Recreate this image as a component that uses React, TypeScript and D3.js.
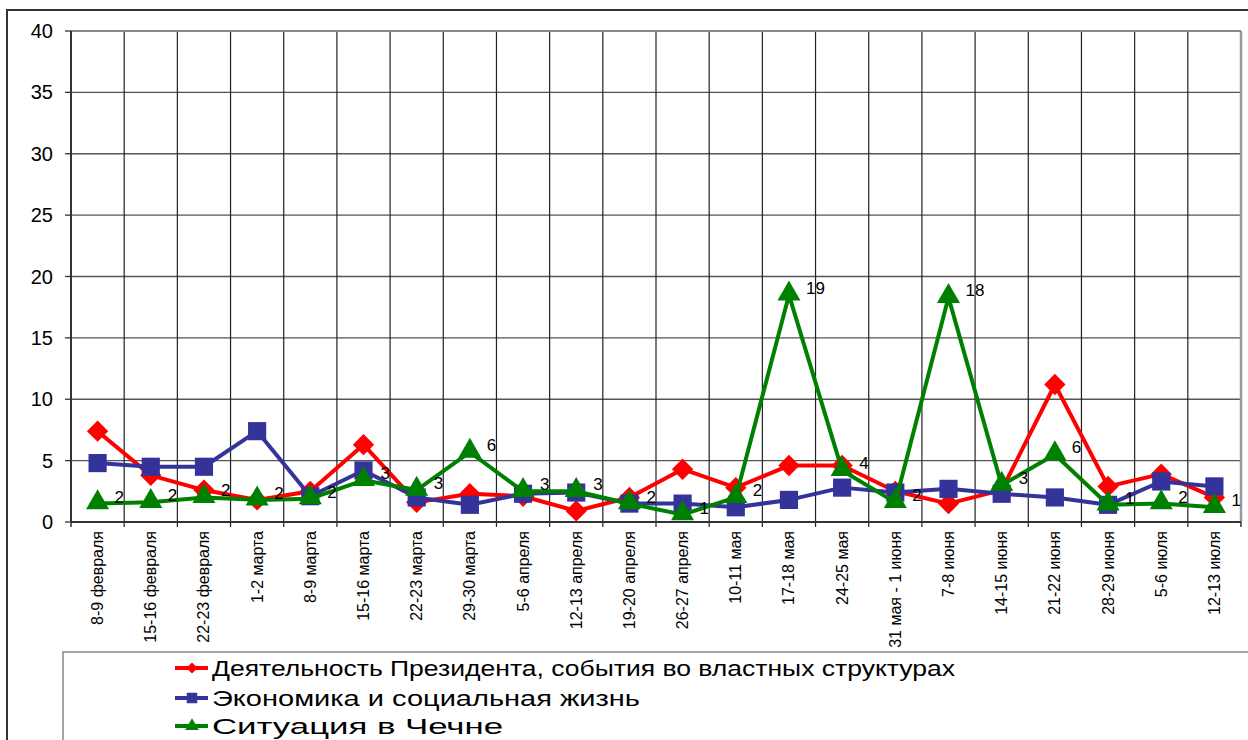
import React, { useEffect, useRef } from 'react';
import * as d3 from 'd3';

const categories = [
  '8-9 февраля', '15-16 февраля', '22-23 февраля', '1-2 марта', '8-9 марта',
  '15-16 марта', '22-23 марта', '29-30 марта', '5-6 апреля', '12-13 апреля',
  '19-20 апреля', '26-27 апреля', '10-11 мая', '17-18 мая', '24-25 мая',
  '31 мая - 1 июня', '7-8 июня', '14-15 июня', '21-22 июня', '28-29 июня',
  '5-6 июля', '12-13 июля',
];

const president = [7.4, 3.8, 2.6, 1.8, 2.5, 6.3, 1.6, 2.3, 2.1, 0.9, 2.0, 4.3, 2.8, 4.6, 4.6, 2.5, 1.5, 2.6, 11.2, 2.9, 3.9, 2.0];
const economy = [4.8, 4.5, 4.5, 7.4, 2.1, 4.2, 2.0, 1.4, 2.3, 2.4, 1.5, 1.5, 1.2, 1.8, 2.8, 2.4, 2.7, 2.3, 2.0, 1.4, 3.3, 2.9];
const chechnya = [1.5, 1.6, 2.0, 1.8, 1.9, 3.4, 2.6, 5.7, 2.5, 2.5, 1.5, 0.6, 2.0, 18.5, 4.2, 1.6, 18.3, 3.0, 5.5, 1.4, 1.5, 1.2];

const yTicks = [0, 5, 10, 15, 20, 25, 30, 35, 40];

const seriesNames = [
  'Деятельность Президента, события во властных структурах',
  'Экономика и социальная жизнь',
  'Ситуация в Чечне',
];
const seriesColors = ['#ff0000', '#333399', '#008000'];
const legendWidths = [743, 428, 291];

export default function App() {
  const svgRef = useRef<SVGSVGElement>(null);

  useEffect(() => {
    if (!svgRef.current) return;
    const svg = d3.select(svgRef.current);
    svg.selectAll('*').remove();

    const left = 71, right = 1241, top = 31, bottom = 522;
    const font = '"Liberation Sans", Arial, sans-serif';

    // outer chart frame
    svg.append('rect')
      .attr('x', 7).attr('y', 10).attr('width', 1400).attr('height', 900)
      .attr('fill', 'white').attr('stroke', '#333').attr('stroke-width', 2);

    const x = d3.scaleBand<string>().domain(categories).range([left, right]);
    const cx = (i: number) => (x(categories[i]) || 0) + x.bandwidth() / 2;
    const y = d3.scaleLinear().domain([0, 40]).range([bottom, top]);

    // gridlines
    svg.append('g').selectAll('line')
      .data(yTicks.slice(1))
      .join('line')
      .attr('x1', left).attr('x2', right)
      .attr('y1', d => y(d)).attr('y2', d => y(d))
      .attr('stroke', '#555').attr('stroke-width', 1.3);

    const bounds = categories.map(c => (x(c) || 0) + x.bandwidth());
    svg.append('g').selectAll('line')
      .data(bounds.slice(0, -1))
      .join('line')
      .attr('x1', d => d).attr('x2', d => d)
      .attr('y1', top).attr('y2', bottom + 5)
      .attr('stroke', '#222').attr('stroke-width', 1.2);

    // plot area border right / top
    svg.append('line').attr('x1', right).attr('x2', right).attr('y1', top).attr('y2', bottom)
      .attr('stroke', '#999').attr('stroke-width', 2.5);
    svg.append('line').attr('x1', left).attr('x2', right).attr('y1', top).attr('y2', top)
      .attr('stroke', '#888').attr('stroke-width', 2);

    // axes
    svg.append('line').attr('x1', left).attr('x2', left).attr('y1', top).attr('y2', bottom)
      .attr('stroke', '#333').attr('stroke-width', 2);
    svg.append('line').attr('x1', left).attr('x2', right).attr('y1', bottom).attr('y2', bottom)
      .attr('stroke', '#333').attr('stroke-width', 2);
    svg.append('line').attr('x1', left).attr('x2', left).attr('y1', bottom).attr('y2', bottom + 5)
      .attr('stroke', '#333').attr('stroke-width', 1.5);
    svg.append('line').attr('x1', right).attr('x2', right).attr('y1', bottom).attr('y2', bottom + 5)
      .attr('stroke', '#333').attr('stroke-width', 1.5);

    svg.append('g').selectAll('line')
      .data(yTicks)
      .join('line')
      .attr('x1', left - 6).attr('x2', left)
      .attr('y1', d => y(d)).attr('y2', d => y(d))
      .attr('stroke', '#333').attr('stroke-width', 1.3);

    svg.append('g').selectAll('text')
      .data(yTicks)
      .join('text')
      .attr('x', 53).attr('y', d => y(d))
      .attr('dy', '0.35em')
      .attr('text-anchor', 'end')
      .attr('font-family', font).attr('font-size', 20)
      .attr('fill', '#000')
      .text(d => d);

    // category labels
    svg.append('g').selectAll('text')
      .data(categories)
      .join('text')
      .attr('transform', (d, i) => `translate(${cx(i) + 5.5},${bottom + 9}) rotate(-90)`)
      .attr('text-anchor', 'end')
      .attr('font-family', font).attr('font-size', 16)
      .attr('fill', '#000')
      .text(d => d);

    const allSeries = [president, economy, chechnya];
    const line = d3.line<number>().x((d, i) => cx(i)).y(d => y(d));

    const diamond = d3.symbol().type(d3.symbolDiamond2).size(290);
    const square = d3.symbol().type(d3.symbolSquare).size(330);
    const triangle = d3.symbol().type(d3.symbolTriangle).size(230);
    const shapes = [diamond, square, triangle];

    allSeries.forEach((s, k) => {
      svg.append('path')
        .datum(s)
        .attr('d', line)
        .attr('fill', 'none')
        .attr('stroke', seriesColors[k])
        .attr('stroke-width', 4)
        .attr('stroke-linejoin', 'round');
      svg.append('g').selectAll('path')
        .data(s)
        .join('path')
        .attr('transform', (d, i) => `translate(${cx(i)},${y(d) - (k === 2 ? 1 : 0)})`)
        .attr('d', shapes[k]() || '')
        .attr('fill', seriesColors[k]);
    });

    // data labels on Chechnya series
    svg.append('g').selectAll('text')
      .data(chechnya)
      .join('text')
      .attr('x', (d, i) => cx(i) + 17)
      .attr('y', d => y(d) - 1)
      .attr('font-family', font).attr('font-size', 17)
      .attr('fill', '#000')
      .text(d => Math.round(d));

    // legend
    svg.append('rect')
      .attr('x', 63).attr('y', 652).attr('width', 1400).attr('height', 200)
      .attr('fill', 'white').attr('stroke', '#888').attr('stroke-width', 1.5);

    const legendY = [668, 698, 726];
    const legendSymbols = [d3.symbolDiamond2, d3.symbolSquare, d3.symbolTriangle];
    seriesNames.forEach((name, k) => {
      const g = svg.append('g').attr('transform', `translate(0,${legendY[k]})`);
      g.append('line').attr('x1', 175).attr('x2', 208).attr('y1', 0).attr('y2', 0)
        .attr('stroke', seriesColors[k]).attr('stroke-width', 4);
      const sym = d3.symbol().type(legendSymbols[k]).size(k === 1 ? 110 : 80);
      g.append('path').attr('transform', 'translate(192,0)').attr('d', sym() || '').attr('fill', seriesColors[k]);
      g.append('text')
        .attr('x', 212).attr('y', 0).attr('dy', '0.36em')
        .attr('font-family', font).attr('font-size', 22)
        .attr('textLength', legendWidths[k]).attr('lengthAdjust', 'spacingAndGlyphs')
        .attr('fill', '#000')
        .text(name);
    });
  }, []);

  return (
    <svg
      ref={svgRef}
      width={1248}
      height={740}
      style={{ position: 'absolute', left: 0, top: 0, background: 'white' }}
    />
  );
}
